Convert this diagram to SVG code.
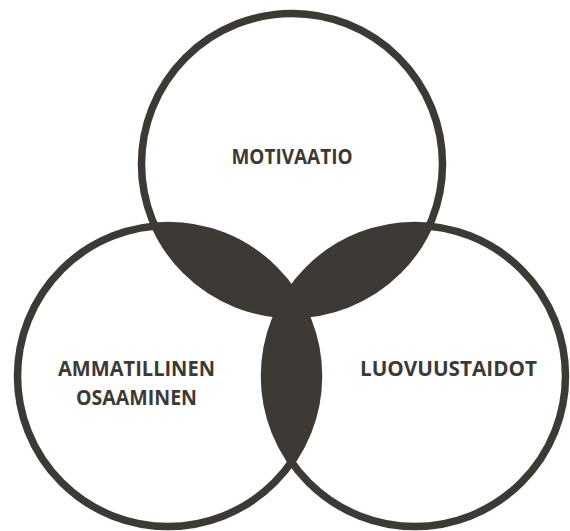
<svg xmlns="http://www.w3.org/2000/svg" width="570" height="531" viewBox="0 0 570 531">
  <style>
    .ring { fill: none; stroke: #3d3935; stroke-width: 7.5; }
    .lens { fill: #3d3935; }
    .label { font-family: "Open Sans", "Noto Sans", "Liberation Sans", sans-serif; font-weight: 700; font-size: 22px; fill: #3d3935; text-anchor: middle; }
  </style>
  <defs>
    <clipPath id="clipTop"><circle cx="292" cy="164" r="150.5"/></clipPath>
    <clipPath id="clipLeft"><circle cx="168" cy="376" r="150.5"/></clipPath>
    <clipPath id="clipRight"><circle cx="415" cy="376" r="150.5"/></clipPath>
  </defs>
  <rect width="570" height="531" fill="#ffffff"/>
  <g id="overlaps">
    <circle class="lens" cx="168" cy="376" r="150.5" clip-path="url(#clipTop)"/>
    <circle class="lens" cx="415" cy="376" r="150.5" clip-path="url(#clipTop)"/>
    <circle class="lens" cx="415" cy="376" r="150.5" clip-path="url(#clipLeft)"/>
  </g>
  <g id="motivaatio">
    <circle class="ring" cx="292" cy="164" r="150.5"/>
    <text class="label" x="292" y="164" textLength="121" lengthAdjust="spacingAndGlyphs">MOTIVAATIO</text>
  </g>
  <g id="ammatillinen-osaaminen">
    <circle class="ring" cx="168" cy="376" r="150.5"/>
    <text class="label" x="136.5" y="376" textLength="157" lengthAdjust="spacingAndGlyphs">AMMATILLINEN</text>
    <text class="label" x="136.5" y="405" textLength="121" lengthAdjust="spacingAndGlyphs">OSAAMINEN</text>
  </g>
  <g id="luovuustaidot">
    <circle class="ring" cx="415" cy="376" r="150.5"/>
    <text class="label" x="448.5" y="376" textLength="177" lengthAdjust="spacingAndGlyphs">LUOVUUSTAIDOT</text>
  </g>
</svg>
